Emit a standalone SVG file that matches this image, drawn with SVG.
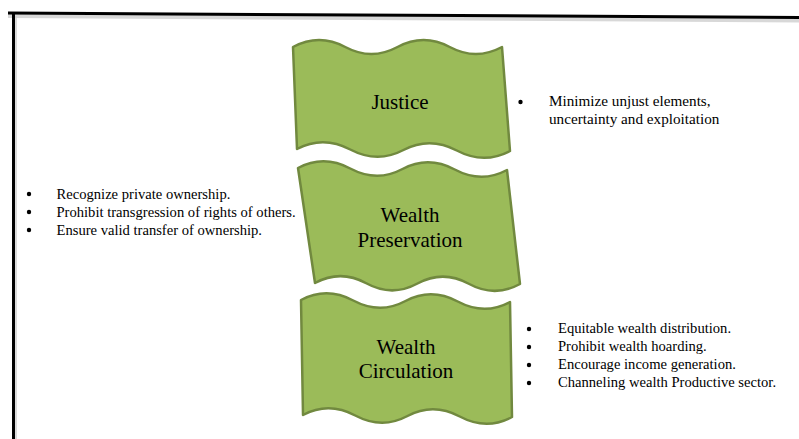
<svg xmlns="http://www.w3.org/2000/svg" width="799" height="439" viewBox="0 0 799 439">
<style>
.wave{fill:#9BBB59;stroke:#71893F;stroke-width:2.5;stroke-linejoin:round}
.lbl{font-family:"Liberation Serif","Times New Roman",serif;font-size:21px;fill:#000;text-anchor:middle}
.item{font-family:"Liberation Serif","Times New Roman",serif;font-size:14.6px;fill:#000}
.dot{fill:#000}
</style>
<rect width="799" height="439" fill="#fff"/>
<g id="frame">
<line x1="8" y1="16" x2="799" y2="20.5" stroke="#d8d8d8" stroke-width="4"/>
<line x1="8" y1="13" x2="799" y2="17.5" stroke="#000" stroke-width="3"/>
<line x1="13.5" y1="12" x2="13.5" y2="439" stroke="#000" stroke-width="3"/>
<line x1="16" y1="16" x2="16" y2="439" stroke="#cfcfcf" stroke-width="1.5"/>
</g>
<g id="connectors"></g>
<g id="justice">
<path class="wave" d="M293,47 C310.4,37.7 327.8,37.7 345.25,47 C362.7,56.3 380.1,56.3 397.5,47 C414.9,37.7 432.3,37.7 449.75,47 C467.2,56.3 484.6,56.3 502,47 L510,151 C492.25,160.33 474.5,159.83 456.75,150.5 C439,141.17 421.25,140.67 403.5,150 C385.75,159.33 368,158.83 350.25,149.5 C332.5,140.17 314.75,139.67 297,149 Z"/>
<text class="lbl" x="400" y="109">Justice</text>
</g>
<g id="wealth-preservation">
<path class="wave" d="M298,168 C315.4,158.7 332.8,159.2 350.25,168.5 C367.7,177.8 385.1,178.3 402.5,169 C419.9,159.7 437.3,160.2 454.75,169.5 C472.2,178.8 489.6,179.3 507,170 L520,284 C502.9,293.3 485.8,293.1 468.75,283.75 C451.7,274.4 434.6,274.2 417.5,283.5 C400.4,292.8 383.3,292.6 366.25,283.25 C349.2,273.9 332.1,273.7 315,283 Z"/>
<text class="lbl" x="410" y="222">Wealth</text>
<text class="lbl" x="410" y="247">Preservation</text>
</g>
<g id="wealth-circulation">
<path class="wave" d="M301,300 C318.4,290.7 335.8,291.2 353.25,300.5 C370.7,309.8 388.1,310.3 405.5,301 C422.9,291.7 440.3,292.2 457.75,301.5 C475.2,310.8 492.6,311.3 510,302 L512,417 C494.6,426.3 477.2,425.8 459.75,416.5 C442.3,407.2 424.9,406.7 407.5,416 C390.1,425.3 372.7,424.8 355.25,415.5 C337.8,406.2 320.4,405.7 303,415 Z"/>
<text class="lbl" x="406" y="354">Wealth</text>
<text class="lbl" x="406" y="378">Circulation</text>
</g>
<g id="justice-notes">
<circle class="dot" cx="520.5" cy="102" r="2.2"/>
<text class="item" x="549" y="106" style="font-size:15.2px">Minimize unjust elements,</text>
<text class="item" x="549" y="124" style="font-size:15.2px">uncertainty and exploitation</text>
</g>
<g id="preservation-notes">
<circle class="dot" cx="29" cy="194" r="2.2"/>
<circle class="dot" cx="29" cy="212" r="2.2"/>
<circle class="dot" cx="29" cy="230" r="2.2"/>
<text class="item" x="56.5" y="199">Recognize private ownership.</text>
<text class="item" x="56.5" y="217">Prohibit transgression of rights of others.</text>
<text class="item" x="56.5" y="235">Ensure valid transfer of ownership.</text>
</g>
<g id="circulation-notes">
<circle class="dot" cx="529" cy="329" r="2.2"/>
<circle class="dot" cx="529" cy="347" r="2.2"/>
<circle class="dot" cx="529" cy="365" r="2.2"/>
<circle class="dot" cx="529" cy="383" r="2.2"/>
<text class="item" x="558" y="333">Equitable wealth distribution.</text>
<text class="item" x="558" y="351">Prohibit wealth hoarding.</text>
<text class="item" x="558" y="369">Encourage income generation.</text>
<text class="item" x="558" y="387">Channeling wealth Productive sector.</text>
</g>
</svg>
